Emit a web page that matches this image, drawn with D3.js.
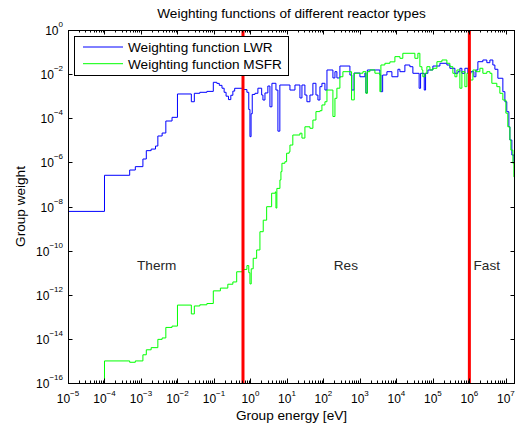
<!DOCTYPE html>
<html>
<head>
<meta charset="utf-8">
<script src="https://cdn.jsdelivr.net/npm/d3@7"></script>
<style>
  html, body { margin: 0; padding: 0; background: #fff; }
  svg { display: block; font-family: "Liberation Sans", Arial, Helvetica, sans-serif; }
</style>
</head>
<body>
<svg id="chart" width="516" height="428"></svg>
<script>
// Group weights (lower group energy in eV, weight) for the LWR spectrum
const lwrEnergy = [1e-5, 1e-4, 4.9e-4, 7e-4, 1.13e-3, 1.4e-3, 1.9e-3, 2.5e-3, 2.9e-3, 3.8e-3, 4.8e-3, 7.1e-3,
  0.01, 0.024, 0.029, 0.041, 0.064, 0.096, 0.12, 0.14, 0.166, 0.19, 0.215, 0.25, 0.29, 0.33, 0.37,
  0.625, 0.8, 0.9, 0.97, 1.04, 1.12, 1.33, 1.6, 2.03, 2.2, 2.5, 3.0, 3.42, 3.88, 5.0, 5.66, 6.4,
  12.1, 16.6, 22.7, 25.8, 31.1, 35.3, 42.7, 51.5, 62.4, 70.7, 80.2, 91, 110, 125, 182, 207, 234, 283,
  532, 600, 690, 1000, 1371, 1459, 1600, 3532, 3760, 4200, 5495, 7530, 1.1e4, 1.25e4, 1.71e4, 2.34e4,
  2.83e4, 4.2e4, 4.6e4, 5.8e4, 6.3e4, 7.3e4, 1e5, 1.56e5, 2.42e5, 2.92e5, 4.01e5, 4.84e5, 5.5e5, 6.24e5,
  7.53e5, 9.1e5, 1.1e6, 1.33e6, 1.51e6, 1.71e6, 2.34e6, 3.01e6, 3.65e6, 4.4e6, 5e6, 6.04e6, 8.28e6,
  9.4e6, 1.06e7, 1.21e7, 1.29e7, 1.46e7, 1.66e7, 1.72e7];
const lwrWeight = [6e-9, 2.6e-7, 4.5e-7, 6.4e-7, 1.42e-6, 3.4e-6, 4.0e-6, 5.5e-6, 1.57e-5, 2.14e-5, 7.5e-5, 1.1e-4,
  1.26e-3, 5.6e-4, 1.35e-3, 1.5e-3, 1.65e-3, 4.26e-3, 3.8e-3, 3.1e-3, 2.3e-3, 1.5e-3, 1.0e-3, 7e-4, 1.1e-3, 1.7e-3, 2.28e-3,
  2.0e-3, 1.5e-3, 2.5e-4, 1.46e-5, 1.6e-4, 1.2e-3, 1.35e-3, 2.3e-3, 1.13e-3, 6.7e-4, 1.4e-3, 2.89e-3, 3.3e-4, 3.84e-3, 1.9e-3, 2.6e-5, 3.21e-3,
  1.9e-3, 3.21e-3, 8.3e-4, 3.21e-3, 1.13e-3, 5.6e-4, 1.13e-3, 3.84e-3, 1.13e-3, 6.7e-4, 2.7e-3, 3.84e-3, 1.9e-3, 0.0154, 6.7e-3, 0.0129, 6.7e-3, 0.0233,
  9.1e-3, 1.9e-3, 0.0112, 7.6e-3, 0.0112, 1.4e-3, 0.0154, 9.1e-3, 1.6e-3, 9.1e-3, 0.0129, 7.6e-3, 0.0166, 0.0129, 0.0259, 0.0217,
  0.0109, 2.28e-3, 0.0109, 1.9e-3, 0.0109, 0.0154, 0.0233, 0.031, 0.0259, 0.0184, 0.0109, 0.0129, 0.0184, 0.0109,
  0.0184, 0.0109, 0.0129, 7.6e-3, 0.0154, 0.0366, 0.0437, 0.033, 0.0437, 0.0259, 0.0166, 6.5e-3, 1.6e-3,
  5.6e-4, 1.98e-4, 4.1e-5, 1.03e-5, 2.16e-6, 1.07e-6, 1.07e-6];

// Group weights for the MSFR spectrum
const msfrEnergy = [1e-5, 1e-4, 4.9e-4, 7e-4, 1.13e-3, 1.4e-3, 1.9e-3, 2.9e-3, 3.8e-3, 4.8e-3, 7.1e-3,
  0.01, 0.024, 0.029, 0.041, 0.064, 0.096, 0.15, 0.24, 0.33, 0.42, 0.625, 0.8, 0.9, 0.97, 1.05, 1.19, 1.48,
  1.82, 2.24, 2.78, 3.81, 4.8, 5.0, 5.3, 6.43, 6.85, 7.3, 8.8, 9.8, 11.5, 12.1, 14.5, 22.7, 25.8, 31.1, 42.7,
  51.5, 62.4, 80.2, 91, 110, 125, 182, 207, 234, 283, 342, 590, 700, 1208, 1459, 1600, 1879, 2576, 3532,
  3760, 4840, 6640, 9100, 1.25e4, 1.5e4, 3.21e4, 3.88e4, 4.4e4, 5e4, 5.3e4, 6.04e4, 6.85e4, 8.3e4, 1e5,
  1.29e5, 1.77e5, 2.42e5, 2.92e5, 3.53e5, 4.01e5, 4.55e5, 5.5e5, 6.24e5, 7.53e5, 8.55e5, 1.03e6, 1.25e6,
  1.51e6, 1.94e6, 2.34e6, 3.01e6, 3.65e6, 4.13e6, 5.66e6, 6.85e6, 8.28e6, 1e7, 1.13e7, 1.29e7, 1.37e7,
  1.56e7, 1.66e7, 1.72e7, 1.78e7];
const msfrWeight = [1e-18, 1.0e-15, 8.7e-16, 1.0e-15, 1.9e-15, 3.2e-15, 4.0e-15, 9.5e-15, 1.1e-14, 3.3e-14, 3.8e-14,
  3.4e-13, 1.35e-13, 3.1e-13, 3.5e-13, 4.0e-13, 1.5e-12, 2.0e-12, 3.0e-12, 3.8e-12, 1.1e-11, 1.4e-11, 2.1e-11, 1.0e-11, 3.1e-12, 1.5e-11, 4.5e-11, 1.07e-10,
  7.2e-10, 2.4e-9, 9.8e-9, 4.0e-8, 4.6e-8, 8.5e-9, 6.6e-8, 1.6e-7, 3.8e-7, 9.1e-7, 1.07e-6, 2.6e-6, 3.0e-6, 6.1e-6, 1.74e-5, 2.1e-5, 1.26e-5, 4.1e-5, 3.5e-5,
  8.3e-5, 2.0e-4, 2.2e-4, 4.0e-4, 5.6e-4, 1.9e-3, 1.2e-4, 8e-4, 2.3e-3, 7.6e-3, 0.0129, 6.8e-4, 0.011, 0.0129, 1.35e-3, 0.0129, 0.0155, 0.011, 1.6e-3,
  0.026, 0.031, 0.036, 0.062, 0.052, 0.088, 0.052, 0.088, 0.0217, 0.0154, 7.6e-3, 0.0109, 0.0217, 0.0154, 0.0184,
  0.0366, 0.0437, 0.031, 0.0217, 0.0109, 7.6e-3, 0.0154, 2.3e-3, 0.0129, 2.7e-3, 0.0109, 5.4e-3, 0.0154,
  0.0129, 0.0184, 0.0109, 0.0129, 0.0109, 3.84e-3, 2.7e-3, 1.35e-3, 6.7e-4, 1.7e-4, 4.1e-5, 1.03e-5, 3.6e-6,
  9.1e-7, 2.2e-7, 1.2e-8, 1.2e-8];

// Region boundaries (eV) and region names
const boundaries = [0.625, 1e6];
const regionNames = ["Therm", "Res", "Fast"];
const regionEnergy = [2.7e-3, 413, 3e6];
const regionWeight = 1.3e-11;

// Axis ticks
const xTickExps = d3.range(-5, 8);
const yTickExps = [0, -2, -4, -6, -8, -10, -12, -14, -16];

const seriesNames = ["Weighting function LWR", "Weighting function MSFR"];
const seriesColors = ["#0000ff", "#00ff00"];

const W = 516, H = 428;
const m = { left: 68, top: 30, right: 515, bottom: 383 };

const svg = d3.select("#chart");

const x = d3.scaleLog().domain([1e-5, 1.78e7]).range([m.left, m.right]);
const y = d3.scaleLog().domain([1e-16, 1]).range([m.bottom, m.top]);

svg.append("defs").append("clipPath").attr("id", "plotClip")
  .append("rect").attr("x", m.left).attr("y", m.top)
  .attr("width", m.right - m.left).attr("height", m.bottom - m.top);

const line = d3.line().x(d => x(d[0])).y(d => y(d[1])).curve(d3.curveStepAfter);

const series = [
  d3.zip(lwrEnergy, lwrWeight),
  d3.zip(msfrEnergy, msfrWeight)
];

const plot = svg.append("g").attr("clip-path", "url(#plotClip)");
series.forEach((s, i) => {
  plot.append("path").datum(s)
    .attr("d", line)
    .attr("fill", "none")
    .attr("stroke", seriesColors[i])
    .attr("stroke-width", 1);
});

// Region boundaries
plot.selectAll("line.bound").data(boundaries).join("line")
  .attr("class", "bound")
  .attr("x1", d => x(d)).attr("x2", d => x(d))
  .attr("y1", m.top).attr("y2", m.bottom)
  .attr("stroke", "#ff0000").attr("stroke-width", 3);

// Region names
svg.selectAll("text.region").data(regionNames).join("text")
  .attr("class", "region")
  .attr("x", (d, i) => x(regionEnergy[i]))
  .attr("y", y(regionWeight))
  .attr("text-anchor", "middle")
  .attr("font-size", "13.6px")
  .attr("fill", "#262626")
  .text(d => d);

// Minor x ticks
const minorX = [];
for (let e = -5; e <= 7; e++) for (let k = 2; k <= 9; k++) {
  const v = k * Math.pow(10, e);
  if (v <= x.domain()[1]) minorX.push(v);
}
const tickG = svg.append("g").attr("stroke", "#000").attr("stroke-width", 1);
function xTicks(vals, len) {
  vals.forEach(v => {
    const px = Math.round(x(v)) + 0.5;
    tickG.append("line").attr("x1", px).attr("x2", px).attr("y1", m.bottom).attr("y2", m.bottom - len);
    tickG.append("line").attr("x1", px).attr("x2", px).attr("y1", m.top).attr("y2", m.top + len);
  });
}
xTicks(minorX, 2.5);
xTicks(xTickExps.map(e => Math.pow(10, e)), 4.5);
yTickExps.forEach(e => {
  const py = Math.round(y(Math.pow(10, e))) + 0.5;
  tickG.append("line").attr("x1", m.left).attr("x2", m.left + 4.5).attr("y1", py).attr("y2", py);
  tickG.append("line").attr("x1", m.right).attr("x2", m.right - 4.5).attr("y1", py).attr("y2", py);
});

// Box
svg.append("rect")
  .attr("x", m.left + 0.5).attr("y", m.top + 0.5)
  .attr("width", m.right - m.left - 1).attr("height", m.bottom - m.top)
  .attr("fill", "none").attr("stroke", "#000").attr("stroke-width", 1);

// Tick labels: 10 with a superscript exponent
const fmtExp = e => (e < 0 ? "\u2212" + (-e) : String(e));
const xl = svg.append("g").attr("font-size", "12px").attr("fill", "#000");
xTickExps.forEach(e => {
  const t = xl.append("text")
    .attr("x", x(Math.pow(10, e)))
    .attr("y", m.bottom + 20)
    .attr("text-anchor", "middle");
  t.append("tspan").text("10");
  t.append("tspan").attr("font-size", "8px").attr("dy", -7).text(fmtExp(e));
});
const yl = svg.append("g").attr("font-size", "12px").attr("fill", "#000");
yTickExps.forEach(e => {
  const t = yl.append("text")
    .attr("x", m.left - 5)
    .attr("y", y(Math.pow(10, e)) + 5)
    .attr("text-anchor", "end");
  t.append("tspan").text("10");
  t.append("tspan").attr("font-size", "8px").attr("dy", -8).text(fmtExp(e));
});

// Titles
svg.append("text")
  .attr("x", (m.left + m.right) / 2).attr("y", 18)
  .attr("text-anchor", "middle").attr("font-size", "13.6px")
  .text("Weighting functions of different reactor types");
svg.append("text")
  .attr("x", (m.left + m.right) / 2).attr("y", 420)
  .attr("text-anchor", "middle").attr("font-size", "13.6px")
  .text("Group energy [eV]");
svg.append("text")
  .attr("transform", `translate(25,${(m.top + m.bottom) / 2}) rotate(-90)`)
  .attr("text-anchor", "middle").attr("font-size", "13.6px")
  .text("Group weight");

// Legend
const lg = svg.append("g").attr("transform", "translate(74,36)");
lg.append("rect").attr("x", 0.5).attr("y", 0.5).attr("width", 214).attr("height", 39)
  .attr("fill", "#fff").attr("stroke", "#000").attr("stroke-width", 1);
seriesNames.forEach((name, i) => {
  const cy = 11 + i * 16.7;
  lg.append("line").attr("x1", 9).attr("x2", 49).attr("y1", cy).attr("y2", cy)
    .attr("stroke", seriesColors[i]).attr("stroke-width", 1);
  lg.append("text").attr("x", 54).attr("y", cy + 5).attr("font-size", "13.6px").text(name);
});
</script>
</body>
</html>
